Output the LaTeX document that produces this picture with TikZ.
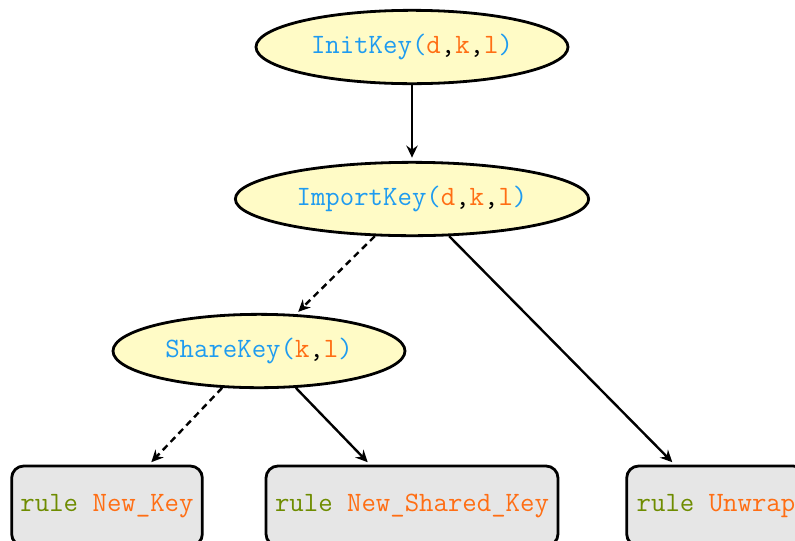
\documentclass[tikz,border=0pt]{standalone}
\usepackage{tikz}
\usetikzlibrary{shapes.geometric,arrows.meta}

\definecolor{fnblue}{RGB}{30,155,240}
\definecolor{argorange}{RGB}{255,110,20}
\definecolor{ruleolive}{RGB}{110,140,0}
\definecolor{keyfill}{RGB}{255,251,198}
\definecolor{rulefill}{RGB}{230,230,230}

\newcommand{\fn}[1]{\textcolor{fnblue}{#1}}
\newcommand{\ar}[1]{\textcolor{argorange}{#1}}
\newcommand{\rl}{\textcolor{ruleolive}{rule}}

\tikzset{
  keynode/.style={ellipse, draw, line width=2.1pt, fill=keyfill, inner sep=0pt, minimum height=55pt},
  rulenode/.style={rectangle, draw, line width=2.1pt, rounded corners=9pt, fill=rulefill, inner sep=0pt, minimum height=60pt},
  link/.style={line width=1.8pt, -{Stealth[length=9pt,width=8.5pt,inset=3pt]}, shorten >=2.5pt},
  weak/.style={link, dash pattern=on 5pt off 3.5pt}
}

\begin{document}
\begin{tikzpicture}[x=0.75pt, y=-0.75pt, every node/.style={font=\ttfamily\fontsize{21}{25}\selectfont}]
\useasboundingbox (0,0) rectangle (795,540);

% key calls
\node[keynode, minimum width=234pt] (init) at (412,47) {\fn{InitKey(}\ar{d},\ar{k},\ar{l}\fn{)}};
\node[keynode, minimum width=265pt] (import) at (412,199) {\fn{ImportKey(}\ar{d},\ar{k},\ar{l}\fn{)}};
\node[keynode, minimum width=219pt] (share) at (259,351) {\fn{ShareKey(}\ar{k},\ar{l}\fn{)}};

% rules
\node[rulenode, minimum width=143pt] (newkey) at (107,506) {\rl{} \ar{New\_Key}};
\node[rulenode, minimum width=219pt] (newshared) at (412,506) {\rl{} \ar{New\_Shared\_Key}};
\node[rulenode, minimum width=134pt] (unwrap) at (716,506) {\rl{} \ar{Unwrap}};

\draw[link] (init) -- (import);
\draw[weak] (import.225) -- (share.45);
\draw[link] (import.315) -- ([xshift=-31pt]unwrap.north);
\draw[weak] (share.225) -- ([xshift=31.5pt]newkey.north);
\draw[link] (share.315) -- ([xshift=-31.5pt]newshared.north);
\end{tikzpicture}
\end{document}
